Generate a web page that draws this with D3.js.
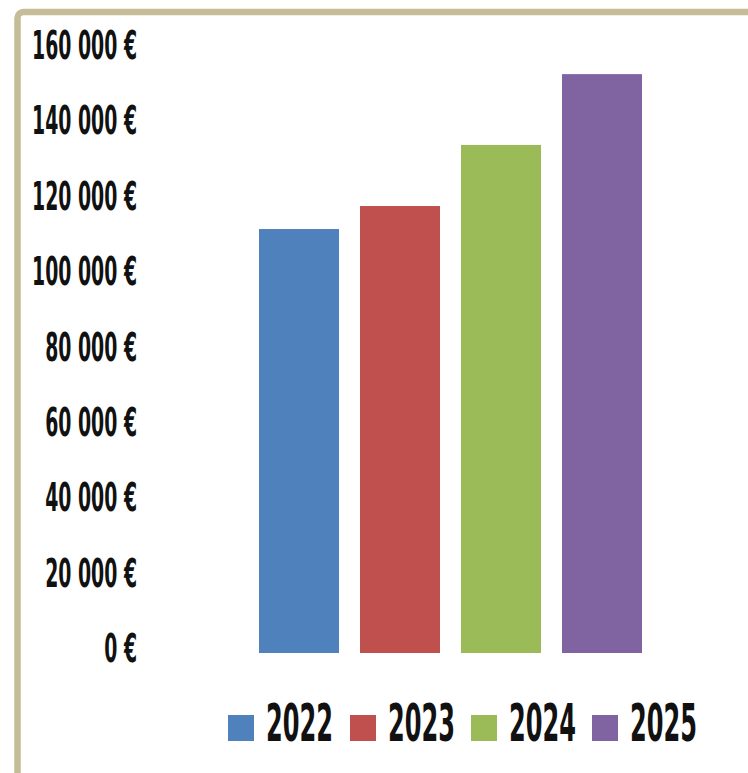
<!DOCTYPE html>
<html lang="fr">
<head>
  <meta charset="UTF-8">
  <title>Chiffre d'affaires</title>
  <script src="https://d3js.org/d3.v7.min.js"></script>
  <style>
    body { margin: 0; background: #fff; }
    text { font-family: "Liberation Sans Narrow", "DejaVu Sans Condensed", "Liberation Sans", sans-serif; font-weight: bold; fill: #111; }
  </style>
</head>
<body>
  <script>
    // data
    const years = ["2022", "2023", "2024", "2025"];
    const amounts = [112500, 118600, 134800, 153600];
    const colors = ["#4f81bd", "#c0504d", "#9bbb59", "#8064a2"];
    const ticks = [0, 20000, 40000, 60000, 80000, 100000, 120000, 140000, 160000];

    const W = 748, H = 773;
    const svg = d3.select("body").append("svg")
        .attr("width", W)
        .attr("height", H);

    // frame (top + left border)
    svg.append("rect")
        .attr("x", 17.5).attr("y", 12)
        .attr("width", 900).attr("height", 900)
        .attr("rx", 6)
        .attr("fill", "none")
        .attr("stroke", "#c5bd97")
        .attr("stroke-width", 6.5);

    const y = d3.scaleLinear().domain([0, 160000]).range([653, 50]);
    const x = d3.scaleBand().domain(years).range([248.5, 652.5]).paddingInner(0.2079).paddingOuter(0.104);

    const fmt = v => d3.format(",")(v).replace(/,/g, " ") + " €";

    // y axis labels, squeezed horizontally to look condensed
    const yAxis = svg.append("g");
    const yLabels = yAxis.selectAll("g")
        .data(ticks)
        .enter()
        .append("g");
    yLabels.append("text")
        .attr("dy", "0.36em")
        .attr("text-anchor", "end")
        .attr("font-size", 39)
        .text(fmt);
    const refW = yLabels.filter(d => d === 100000).select("text").node().getBBox().width;
    const ky = 105 / refW;
    yLabels.attr("transform", d => `translate(137,${y(d) - 5}) scale(${ky},1)`);

    // bars
    svg.selectAll("rect.bar")
        .data(amounts)
        .enter()
        .append("rect")
        .attr("class", "bar")
        .attr("x", (d, i) => x(years[i]))
        .attr("y", d => y(d))
        .attr("width", x.bandwidth())
        .attr("height", d => y(0) - y(d))
        .attr("fill", (d, i) => colors[i]);

    // legend
    const legendX = [228, 350, 471, 592];
    const lg = svg.append("g").selectAll("g")
        .data(years)
        .enter()
        .append("g")
        .attr("transform", (d, i) => `translate(${legendX[i]},715)`);
    lg.append("rect")
        .attr("width", 26).attr("height", 26)
        .attr("fill", (d, i) => colors[i]);
    const lt = lg.append("text")
        .attr("font-size", 52)
        .text(d => d);
    const kl = 67 / lt.node().getBBox().width;
    lt.attr("transform", `translate(38,26) scale(${kl},1)`);
  </script>
</body>
</html>
